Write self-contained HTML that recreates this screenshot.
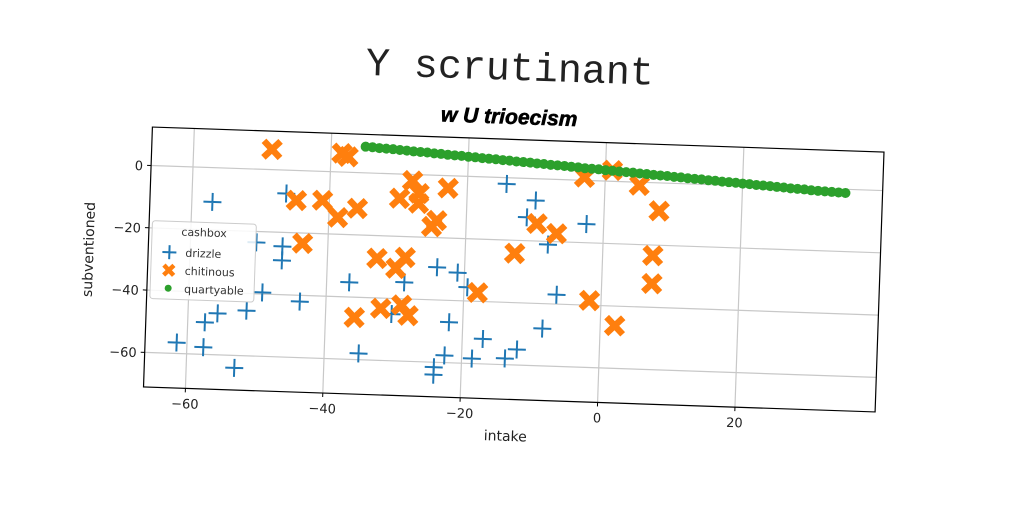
<!DOCTYPE html>
<html><head><meta charset="utf-8"><style>
html,body{margin:0;padding:0;background:#fff;}
svg{display:block;font-family:"DejaVu Sans","Liberation Sans",sans-serif;}
</style></head><body>
<svg id="chart" width="1024" height="512" viewBox="0 0 1024 512" xmlns="http://www.w3.org/2000/svg">
<g id="root" transform="rotate(1.96 513.75 269.5)">
<text x="503" y="80" text-anchor="middle" font-family="Liberation Mono, monospace" font-size="40" fill="#222">Y scrutinant</text>
<text x="504" y="124" text-anchor="middle" font-family="Liberation Sans Narrow, Liberation Sans, sans-serif" font-weight="bold" font-style="italic" font-size="21" fill="#000" stroke="#000" stroke-width="0.6">w U trioecism</text>
<g id="grid"></g>
<g id="ticks"></g>
<g id="marks"></g>
<rect x="147.75" y="139.5" width="732" height="260" fill="none" stroke="#000" stroke-width="1.2"/>
<text x="511" y="441" text-anchor="middle" font-size="14" fill="#222">intake</text>
<text x="0" y="0" transform="translate(93,264) rotate(-90)" text-anchor="middle" font-size="14" fill="#222">subventioned</text>
<g>
<rect x="151" y="233" width="104" height="78" rx="3" fill="#fff" fill-opacity="0.85" stroke="#ccc"/>
<text x="203" y="247" text-anchor="middle" font-size="11" fill="#333">cashbox</text>
<g><path d="M162 264h14M169 257v14" stroke="#1f77b4" stroke-width="2"/><text x="185" y="268" font-size="11" fill="#333">drizzle</text></g>
<g><path d="M164 277l10 10M174 277l-10 10" stroke="#ff7f0e" stroke-width="4.5"/><text x="185" y="286" font-size="11" fill="#333">chitinous</text></g>
<g><circle cx="169" cy="300" r="3.5" fill="#2ca02c"/><text x="185" y="304" font-size="11" fill="#333">quartyable</text></g>
</g>
</g>
</svg>
<script>
const xTicks=[-60,-40,-20,0,20];
const yTicks=[0,-20,-40,-60];
const drizzleX=[-57,-46.3,-14.3,-10,-11.2,-2.5,-8,-6.5,-8.4,-12,-13.7,-46.6,-46.6,-50.4,-49.3,-43.8,-51.5,-55.7,-57.5,-61.5,-57.6,-53,-36.7,-35,-28.7,-30.4,-24,-21,-19.5,-22,-17,-22.5,-18.5,-24,-24];
const drizzleY=[-11,-7.5,-2,-7,-12.5,-14,-21,-37,-48,-55,-58,-24.5,-29,-23.5,-39.5,-42,-45.5,-46.7,-49.7,-56.5,-57.7,-64,-35.3,-58,-34.7,-45,-29.5,-31,-35.6,-47,-52,-57.7,-58.4,-61.6,-64];
const chitX=[-48.6,-38.4,-37.5,-44.8,-41,-38.7,-35.9,-29.8,-28,-27,-27,-22.8,-24.3,-25,-43.7,-32.8,-28.7,-30,-18,-35.8,-32,-29,-28,-3,1,5,8,-9.7,-6.8,-12.8,7.3,7.3,-1.7,2.1];
const chitY=[6.5,6,5,-9.6,-9.3,-14.6,-11.5,-7.8,-2,-6,-9.2,-4,-14.5,-16.5,-23.3,-27.3,-26.7,-30.3,-37.2,-46.5,-43.3,-42,-45.3,1,3.5,-1,-9,-14.4,-17.4,-24.2,-23.4,-32.4,-38.5,-46.3];
const quartX=[-35,-34,-33,-32,-31,-30,-29,-28,-27,-26,-25,-24,-23,-22,-21,-20,-19,-18,-17,-16,-15,-14,-13,-12,-11,-10,-9,-8,-7,-6,-5,-4,-3,-2,-1,0,1,2,3,4,5,6,7,8,9,10,11,12,13,14,15,16,17,18,19,20,21,22,23,24,25,26,27,28,29,30,31,32,33,34,35];
const quartY=[8.4,8.3,8.1,8,7.9,7.7,7.6,7.4,7.3,7.2,7,6.9,6.7,6.6,6.5,6.3,6.2,6,5.9,5.8,5.6,5.5,5.3,5.2,5.1,4.9,4.8,4.6,4.5,4.4,4.2,4.1,3.9,3.8,3.7,3.5,3.4,3.2,3.1,3,2.8,2.7,2.5,2.4,2.3,2.1,2,1.8,1.7,1.6,1.4,1.3,1.1,1,0.9,0.7,0.6,0.4,0.3,0.2,0,-0.1,-0.3,-0.4,-0.5,-0.7,-0.8,-0.9,-1,-1.1,-1.2];
const NS='http://www.w3.org/2000/svg';
const L=147.75,T=139.5,W=732,H=260,XMIN=-66.1,XMAX=40.4,YMIN=-71.1,YMAX=12.35;
function sx(v){return L+(v-XMIN)/(XMAX-XMIN)*W;}
function sy(v){return T+(YMAX-v)/(YMAX-YMIN)*H;}
function mk(tag,attrs,parent){const e=document.createElementNS(NS,tag);for(const k in attrs)e.setAttribute(k,attrs[k]);parent.appendChild(e);return e;}
const grid=document.getElementById('grid'),ticks=document.getElementById('ticks'),marks=document.getElementById('marks');
xTicks.forEach(t=>{const x=sx(t);
 const g=mk('line',{x1:x,x2:x,y1:T,y2:T+H,stroke:'#c8c8c8','stroke-width':1.2},grid);
 
 
 const tk=mk('line',{x1:x,x2:x,y1:T+H,y2:T+H+4,stroke:'#000'},ticks);
 
 
 const tx=mk('text',{x:x,y:T+H+20,'text-anchor':'middle','font-size':13,fill:'#222'},ticks);
 tx.textContent=String(t).replace('-','\u2212');
 
 });
yTicks.forEach(t=>{const y=sy(t);
 const g=mk('line',{x1:L,x2:L+W,y1:y,y2:y,stroke:'#c8c8c8','stroke-width':1.2},grid);
 
 
 const tk=mk('line',{x1:L-4,x2:L,y1:y,y2:y,stroke:'#000'},ticks);
 
 
 const tx=mk('text',{x:L-8,y:y+5,'text-anchor':'end','font-size':13,fill:'#222'},ticks);
 tx.textContent=String(t).replace('-','\u2212');
 
 });
drizzleX.forEach((v,i)=>{const x=sx(v),y=sy(drizzleY[i]);
 const p=mk('path',{d:`M${x-9} ${y}h18M${x} ${y-9}v18`,stroke:'#1f77b4','stroke-width':2},marks);
 
 });
chitX.forEach((v,i)=>{const x=sx(v),y=sy(chitY[i]);
 const p=mk('path',{d:`M${x-6} ${y-6}L${x+6} ${y+6}M${x+6} ${y-6}L${x-6} ${y+6}`,stroke:'#ff7f0e','stroke-width':6.5,'stroke-linecap':'square'},marks);
 
 });
quartX.forEach((v,i)=>{
 const c=mk('circle',{cx:sx(v),cy:sy(quartY[i]),r:5,fill:'#2ca02c'},marks);
 
 });
</script>
</body></html>
